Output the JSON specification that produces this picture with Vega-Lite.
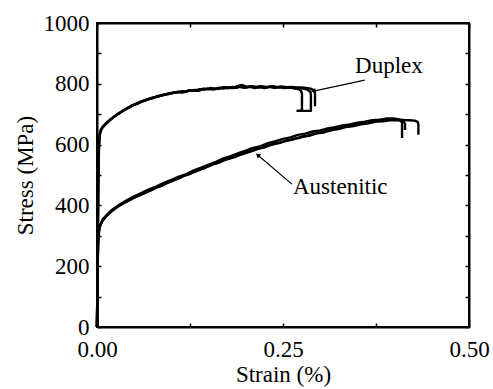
{
  "$schema": "https://vega.github.io/schema/vega-lite/v6.json",
  "width": 372,
  "height": 304,
  "autosize": "none",
  "padding": {"left": 97, "top": 23, "right": 24, "bottom": 62},
  "background": "white",
  "config": {
    "view": {"stroke": "#000", "strokeWidth": 2},
    "axis": {
      "grid": false,
      "domainColor": "#000", "domainWidth": 2,
      "tickColor": "#000", "tickWidth": 1.5, "tickSize": -4,
      "labelFont": "Liberation Serif", "labelFontSize": 23, "labelColor": "#000",
      "labelFlush": false, "labelOverlap": false,
      "titleFont": "Liberation Serif", "titleFontSize": 23, "titleFontWeight": "normal", "titleColor": "#000"
    }
  },
  "datasets": {
    "curves": [
      {"test":"D1","strain":0,"stress":0},{"test":"D1","strain":0.0005,"stress":150},{"test":"D1","strain":0.001,"stress":320},{"test":"D1","strain":0.0015,"stress":480},{"test":"D1","strain":0.002,"stress":580},{"test":"D1","strain":0.003,"stress":628},{"test":"D1","strain":0.005,"stress":648},{"test":"D1","strain":0.008,"stress":660},{"test":"D1","strain":0.012,"stress":670},{"test":"D1","strain":0.0175,"stress":682},{"test":"D1","strain":0.022,"stress":690},{"test":"D1","strain":0.028,"stress":701},{"test":"D1","strain":0.035,"stress":712},{"test":"D1","strain":0.04,"stress":718},{"test":"D1","strain":0.047,"stress":729},{"test":"D1","strain":0.052,"stress":733},{"test":"D1","strain":0.058,"stress":741},{"test":"D1","strain":0.064,"stress":745},{"test":"D1","strain":0.07,"stress":751},{"test":"D1","strain":0.076,"stress":754},{"test":"D1","strain":0.081,"stress":760},{"test":"D1","strain":0.088,"stress":762},{"test":"D1","strain":0.095,"stress":768},{"test":"D1","strain":0.102,"stress":771},{"test":"D1","strain":0.108,"stress":772},{"test":"D1","strain":0.115,"stress":776},{"test":"D1","strain":0.12,"stress":774},{"test":"D1","strain":0.125,"stress":778},{"test":"D1","strain":0.132,"stress":780},{"test":"D1","strain":0.138,"stress":778},{"test":"D1","strain":0.143,"stress":784},{"test":"D1","strain":0.15,"stress":782},{"test":"D1","strain":0.157,"stress":785},{"test":"D1","strain":0.163,"stress":783},{"test":"D1","strain":0.17,"stress":788},{"test":"D1","strain":0.176,"stress":785},{"test":"D1","strain":0.182,"stress":790},{"test":"D1","strain":0.188,"stress":787},{"test":"D1","strain":0.194,"stress":793},{"test":"D1","strain":0.2,"stress":788},{"test":"D1","strain":0.206,"stress":790},{"test":"D1","strain":0.212,"stress":786},{"test":"D1","strain":0.218,"stress":789},{"test":"D1","strain":0.225,"stress":786},{"test":"D1","strain":0.232,"stress":790},{"test":"D1","strain":0.238,"stress":787},{"test":"D1","strain":0.245,"stress":789},{"test":"D1","strain":0.252,"stress":786},{"test":"D1","strain":0.258,"stress":788},{"test":"D1","strain":0.264,"stress":785},{"test":"D1","strain":0.27,"stress":783},{"test":"D1","strain":0.274,"stress":778},{"test":"D1","strain":0.2755,"stress":768},{"test":"D1","strain":0.2755,"stress":712},{"test":"D1","strain":0.268,"stress":711},

      {"test":"D2","strain":0,"stress":0},{"test":"D2","strain":0.0008,"stress":200},{"test":"D2","strain":0.0015,"stress":420},{"test":"D2","strain":0.0022,"stress":570},{"test":"D2","strain":0.003,"stress":620},{"test":"D2","strain":0.0045,"stress":642},{"test":"D2","strain":0.007,"stress":655},{"test":"D2","strain":0.011,"stress":666},{"test":"D2","strain":0.016,"stress":678},{"test":"D2","strain":0.021,"stress":688},{"test":"D2","strain":0.027,"stress":699},{"test":"D2","strain":0.033,"stress":708},{"test":"D2","strain":0.039,"stress":718},{"test":"D2","strain":0.045,"stress":725},{"test":"D2","strain":0.051,"stress":733},{"test":"D2","strain":0.057,"stress":738},{"test":"D2","strain":0.063,"stress":745},{"test":"D2","strain":0.069,"stress":749},{"test":"D2","strain":0.075,"stress":755},{"test":"D2","strain":0.082,"stress":758},{"test":"D2","strain":0.089,"stress":764},{"test":"D2","strain":0.096,"stress":766},{"test":"D2","strain":0.103,"stress":770},{"test":"D2","strain":0.11,"stress":774},{"test":"D2","strain":0.117,"stress":773},{"test":"D2","strain":0.124,"stress":779},{"test":"D2","strain":0.131,"stress":777},{"test":"D2","strain":0.138,"stress":782},{"test":"D2","strain":0.145,"stress":781},{"test":"D2","strain":0.152,"stress":786},{"test":"D2","strain":0.159,"stress":783},{"test":"D2","strain":0.166,"stress":787},{"test":"D2","strain":0.173,"stress":789},{"test":"D2","strain":0.18,"stress":786},{"test":"D2","strain":0.187,"stress":791},{"test":"D2","strain":0.195,"stress":796},{"test":"D2","strain":0.202,"stress":790},{"test":"D2","strain":0.209,"stress":792},{"test":"D2","strain":0.216,"stress":788},{"test":"D2","strain":0.223,"stress":791},{"test":"D2","strain":0.23,"stress":789},{"test":"D2","strain":0.237,"stress":792},{"test":"D2","strain":0.244,"stress":788},{"test":"D2","strain":0.251,"stress":790},{"test":"D2","strain":0.258,"stress":787},{"test":"D2","strain":0.265,"stress":788},{"test":"D2","strain":0.272,"stress":786},{"test":"D2","strain":0.278,"stress":784},{"test":"D2","strain":0.283,"stress":780},{"test":"D2","strain":0.287,"stress":773},{"test":"D2","strain":0.2875,"stress":762},{"test":"D2","strain":0.2875,"stress":711},{"test":"D2","strain":0.271,"stress":711},

      {"test":"D3","strain":0,"stress":0},{"test":"D3","strain":0.001,"stress":250},{"test":"D3","strain":0.002,"stress":520},{"test":"D3","strain":0.0028,"stress":600},{"test":"D3","strain":0.004,"stress":636},{"test":"D3","strain":0.006,"stress":652},{"test":"D3","strain":0.01,"stress":664},{"test":"D3","strain":0.015,"stress":675},{"test":"D3","strain":0.02,"stress":686},{"test":"D3","strain":0.026,"stress":697},{"test":"D3","strain":0.032,"stress":706},{"test":"D3","strain":0.038,"stress":716},{"test":"D3","strain":0.044,"stress":724},{"test":"D3","strain":0.05,"stress":731},{"test":"D3","strain":0.056,"stress":736},{"test":"D3","strain":0.062,"stress":743},{"test":"D3","strain":0.068,"stress":748},{"test":"D3","strain":0.074,"stress":752},{"test":"D3","strain":0.08,"stress":757},{"test":"D3","strain":0.087,"stress":762},{"test":"D3","strain":0.094,"stress":765},{"test":"D3","strain":0.1,"stress":769},{"test":"D3","strain":0.107,"stress":773},{"test":"D3","strain":0.114,"stress":771},{"test":"D3","strain":0.121,"stress":776},{"test":"D3","strain":0.128,"stress":779},{"test":"D3","strain":0.135,"stress":777},{"test":"D3","strain":0.142,"stress":782},{"test":"D3","strain":0.149,"stress":784},{"test":"D3","strain":0.156,"stress":781},{"test":"D3","strain":0.163,"stress":786},{"test":"D3","strain":0.17,"stress":784},{"test":"D3","strain":0.177,"stress":788},{"test":"D3","strain":0.184,"stress":786},{"test":"D3","strain":0.191,"stress":790},{"test":"D3","strain":0.198,"stress":787},{"test":"D3","strain":0.205,"stress":791},{"test":"D3","strain":0.212,"stress":789},{"test":"D3","strain":0.219,"stress":792},{"test":"D3","strain":0.226,"stress":788},{"test":"D3","strain":0.233,"stress":791},{"test":"D3","strain":0.24,"stress":788},{"test":"D3","strain":0.247,"stress":791},{"test":"D3","strain":0.254,"stress":789},{"test":"D3","strain":0.261,"stress":790},{"test":"D3","strain":0.268,"stress":787},{"test":"D3","strain":0.275,"stress":788},{"test":"D3","strain":0.281,"stress":786},{"test":"D3","strain":0.287,"stress":784},{"test":"D3","strain":0.291,"stress":779},{"test":"D3","strain":0.293,"stress":770},{"test":"D3","strain":0.293,"stress":726},

      {"test":"A1","strain":0,"stress":0},{"test":"A1","strain":0.0005,"stress":120},{"test":"A1","strain":0.001,"stress":220},{"test":"A1","strain":0.0015,"stress":280},{"test":"A1","strain":0.002,"stress":305},{"test":"A1","strain":0.003,"stress":322},{"test":"A1","strain":0.005,"stress":338},{"test":"A1","strain":0.008,"stress":352},{"test":"A1","strain":0.012,"stress":364},{"test":"A1","strain":0.0175,"stress":378},{"test":"A1","strain":0.022,"stress":387},{"test":"A1","strain":0.028,"stress":397},{"test":"A1","strain":0.035,"stress":407},{"test":"A1","strain":0.041,"stress":414},{"test":"A1","strain":0.047,"stress":423},{"test":"A1","strain":0.053,"stress":428},{"test":"A1","strain":0.058,"stress":434},{"test":"A1","strain":0.064,"stress":440},{"test":"A1","strain":0.07,"stress":447},{"test":"A1","strain":0.076,"stress":453},{"test":"A1","strain":0.081,"stress":460},{"test":"A1","strain":0.087,"stress":464},{"test":"A1","strain":0.093,"stress":472},{"test":"A1","strain":0.098,"stress":477},{"test":"A1","strain":0.104,"stress":485},{"test":"A1","strain":0.11,"stress":489},{"test":"A1","strain":0.116,"stress":496},{"test":"A1","strain":0.122,"stress":501},{"test":"A1","strain":0.128,"stress":507},{"test":"A1","strain":0.134,"stress":513},{"test":"A1","strain":0.14,"stress":519},{"test":"A1","strain":0.146,"stress":526},{"test":"A1","strain":0.152,"stress":531},{"test":"A1","strain":0.158,"stress":537},{"test":"A1","strain":0.164,"stress":541},{"test":"A1","strain":0.17,"stress":548},{"test":"A1","strain":0.176,"stress":552},{"test":"A1","strain":0.182,"stress":557},{"test":"A1","strain":0.188,"stress":563},{"test":"A1","strain":0.194,"stress":567},{"test":"A1","strain":0.2,"stress":573},{"test":"A1","strain":0.206,"stress":578},{"test":"A1","strain":0.212,"stress":582},{"test":"A1","strain":0.218,"stress":588},{"test":"A1","strain":0.224,"stress":591},{"test":"A1","strain":0.23,"stress":597},{"test":"A1","strain":0.236,"stress":600},{"test":"A1","strain":0.242,"stress":605},{"test":"A1","strain":0.248,"stress":608},{"test":"A1","strain":0.254,"stress":612},{"test":"A1","strain":0.26,"stress":615},{"test":"A1","strain":0.266,"stress":620},{"test":"A1","strain":0.272,"stress":622},{"test":"A1","strain":0.278,"stress":627},{"test":"A1","strain":0.284,"stress":630},{"test":"A1","strain":0.29,"stress":634},{"test":"A1","strain":0.296,"stress":638},{"test":"A1","strain":0.302,"stress":641},{"test":"A1","strain":0.308,"stress":645},{"test":"A1","strain":0.314,"stress":647},{"test":"A1","strain":0.32,"stress":652},{"test":"A1","strain":0.326,"stress":654},{"test":"A1","strain":0.332,"stress":658},{"test":"A1","strain":0.338,"stress":660},{"test":"A1","strain":0.344,"stress":664},{"test":"A1","strain":0.35,"stress":666},{"test":"A1","strain":0.356,"stress":670},{"test":"A1","strain":0.362,"stress":671},{"test":"A1","strain":0.368,"stress":675},{"test":"A1","strain":0.374,"stress":676},{"test":"A1","strain":0.38,"stress":679},{"test":"A1","strain":0.386,"stress":680},{"test":"A1","strain":0.392,"stress":683},{"test":"A1","strain":0.398,"stress":682},{"test":"A1","strain":0.404,"stress":684},{"test":"A1","strain":0.408,"stress":680},{"test":"A1","strain":0.41,"stress":672},{"test":"A1","strain":0.41,"stress":622},

      {"test":"A2","strain":0,"stress":0},{"test":"A2","strain":0.001,"stress":240},{"test":"A2","strain":0.002,"stress":310},{"test":"A2","strain":0.004,"stress":335},{"test":"A2","strain":0.008,"stress":355},{"test":"A2","strain":0.014,"stress":371},{"test":"A2","strain":0.02,"stress":385},{"test":"A2","strain":0.03,"stress":402},{"test":"A2","strain":0.04,"stress":417},{"test":"A2","strain":0.05,"stress":430},{"test":"A2","strain":0.06,"stress":441},{"test":"A2","strain":0.07,"stress":453},{"test":"A2","strain":0.08,"stress":463},{"test":"A2","strain":0.09,"stress":474},{"test":"A2","strain":0.1,"stress":484},{"test":"A2","strain":0.11,"stress":495},{"test":"A2","strain":0.12,"stress":503},{"test":"A2","strain":0.13,"stress":515},{"test":"A2","strain":0.14,"stress":524},{"test":"A2","strain":0.15,"stress":534},{"test":"A2","strain":0.16,"stress":543},{"test":"A2","strain":0.17,"stress":555},{"test":"A2","strain":0.18,"stress":562},{"test":"A2","strain":0.19,"stress":572},{"test":"A2","strain":0.2,"stress":580},{"test":"A2","strain":0.21,"stress":589},{"test":"A2","strain":0.22,"stress":595},{"test":"A2","strain":0.23,"stress":605},{"test":"A2","strain":0.24,"stress":611},{"test":"A2","strain":0.25,"stress":619},{"test":"A2","strain":0.26,"stress":624},{"test":"A2","strain":0.27,"stress":632},{"test":"A2","strain":0.28,"stress":636},{"test":"A2","strain":0.29,"stress":643},{"test":"A2","strain":0.3,"stress":647},{"test":"A2","strain":0.31,"stress":653},{"test":"A2","strain":0.32,"stress":657},{"test":"A2","strain":0.33,"stress":663},{"test":"A2","strain":0.34,"stress":666},{"test":"A2","strain":0.35,"stress":672},{"test":"A2","strain":0.36,"stress":675},{"test":"A2","strain":0.37,"stress":680},{"test":"A2","strain":0.38,"stress":682},{"test":"A2","strain":0.39,"stress":686},{"test":"A2","strain":0.398,"stress":686},{"test":"A2","strain":0.405,"stress":683},{"test":"A2","strain":0.412,"stress":681},{"test":"A2","strain":0.42,"stress":680},{"test":"A2","strain":0.427,"stress":679},{"test":"A2","strain":0.431,"stress":675},{"test":"A2","strain":0.432,"stress":666},{"test":"A2","strain":0.432,"stress":632},

      {"test":"A3","strain":0,"stress":0},{"test":"A3","strain":0.0008,"stress":190},{"test":"A3","strain":0.0018,"stress":295},{"test":"A3","strain":0.0035,"stress":328},{"test":"A3","strain":0.007,"stress":348},{"test":"A3","strain":0.013,"stress":366},{"test":"A3","strain":0.019,"stress":379},{"test":"A3","strain":0.027,"stress":394},{"test":"A3","strain":0.036,"stress":408},{"test":"A3","strain":0.045,"stress":419},{"test":"A3","strain":0.055,"stress":432},{"test":"A3","strain":0.065,"stress":442},{"test":"A3","strain":0.075,"stress":454},{"test":"A3","strain":0.085,"stress":463},{"test":"A3","strain":0.095,"stress":475},{"test":"A3","strain":0.105,"stress":484},{"test":"A3","strain":0.115,"stress":496},{"test":"A3","strain":0.125,"stress":504},{"test":"A3","strain":0.135,"stress":516},{"test":"A3","strain":0.145,"stress":523},{"test":"A3","strain":0.155,"stress":535},{"test":"A3","strain":0.165,"stress":542},{"test":"A3","strain":0.175,"stress":553},{"test":"A3","strain":0.185,"stress":559},{"test":"A3","strain":0.195,"stress":570},{"test":"A3","strain":0.205,"stress":576},{"test":"A3","strain":0.215,"stress":586},{"test":"A3","strain":0.225,"stress":591},{"test":"A3","strain":0.235,"stress":601},{"test":"A3","strain":0.245,"stress":605},{"test":"A3","strain":0.255,"stress":614},{"test":"A3","strain":0.265,"stress":618},{"test":"A3","strain":0.275,"stress":626},{"test":"A3","strain":0.285,"stress":629},{"test":"A3","strain":0.295,"stress":637},{"test":"A3","strain":0.305,"stress":640},{"test":"A3","strain":0.315,"stress":648},{"test":"A3","strain":0.325,"stress":651},{"test":"A3","strain":0.335,"stress":658},{"test":"A3","strain":0.345,"stress":661},{"test":"A3","strain":0.355,"stress":667},{"test":"A3","strain":0.365,"stress":670},{"test":"A3","strain":0.375,"stress":676},{"test":"A3","strain":0.385,"stress":677},{"test":"A3","strain":0.395,"stress":681},{"test":"A3","strain":0.405,"stress":680},{"test":"A3","strain":0.412,"stress":676},{"test":"A3","strain":0.414,"stress":668},{"test":"A3","strain":0.414,"stress":648}
    ],
    "labels": [
      {"name": "Duplex", "strain": 0.3468, "stress": 836},
      {"name": "Austenitic", "strain": 0.2634, "stress": 436}
    ],
    "arrows": [
      {"name": "Duplex", "strain": 0.360, "stress": 812, "strain2": 0.291, "stress2": 776},
      {"name": "Austenitic", "strain": 0.262, "stress": 470, "strain2": 0.216, "stress2": 566}
    ]
  },
  "layer": [
    {
      "data": {"name": "curves"},
      "mark": {"type": "line", "color": "#000", "strokeWidth": 2.4, "strokeJoin": "round"},
      "encoding": {
        "x": {"field": "strain", "type": "quantitative", "scale": {"domain": [0, 0.5], "nice": false, "zero": false},
              "axis": {"orient": "bottom", "values": [0, 0.125, 0.25, 0.375, 0.5], "format": ".2f",
                       "labelExpr": "(datum.value * 8) % 2 == 0 ? datum.label : ''",
                       "labelPadding": 15, "title": "Strain (%)", "titlePadding": 2}},
        "y": {"field": "stress", "type": "quantitative", "scale": {"domain": [0, 1000], "nice": false},
              "axis": {"orient": "left", "values": [0, 100, 200, 300, 400, 500, 600, 700, 800, 900, 1000], "format": "d",
                       "labelExpr": "datum.value % 200 == 0 ? datum.label : ''",
                       "labelPadding": 12, "title": "Stress (MPa)", "titlePadding": 6}},
        "detail": {"field": "test"},
        "order": {"value": null}
      }
    },
    {
      "data": {"name": "curves"},
      "mark": {"type": "point", "opacity": 0},
      "encoding": {
        "x": {"field": "strain", "type": "quantitative",
              "axis": {"orient": "top", "values": [0, 0.125, 0.25, 0.375, 0.5], "labels": false, "title": null}},
        "y": {"field": "stress", "type": "quantitative",
              "axis": {"orient": "right", "values": [0, 100, 200, 300, 400, 500, 600, 700, 800, 900, 1000], "labels": false, "title": null}}
      }
    },
    {
      "data": {"name": "arrows"},
      "mark": {"type": "rule", "color": "#000", "strokeWidth": 1.2},
      "encoding": {
        "x": {"field": "strain", "type": "quantitative", "axis": null},
        "y": {"field": "stress", "type": "quantitative", "axis": null},
        "x2": {"field": "strain2"},
        "y2": {"field": "stress2"}
      }
    },
    {
      "data": {"name": "arrows"},
      "transform": [{"filter": "datum.name == 'Duplex'"}],
      "mark": {"type": "point", "shape": "triangle-up", "filled": true, "color": "#000", "size": 28, "angle": 258, "opacity": 1},
      "encoding": {
        "x": {"field": "strain2", "type": "quantitative", "axis": null},
        "y": {"field": "stress2", "type": "quantitative", "axis": null}
      }
    },
    {
      "data": {"name": "arrows"},
      "transform": [{"filter": "datum.name == 'Austenitic'"}],
      "mark": {"type": "point", "shape": "triangle-up", "filled": true, "color": "#000", "size": 28, "angle": 310, "opacity": 1},
      "encoding": {
        "x": {"field": "strain2", "type": "quantitative", "axis": null},
        "y": {"field": "stress2", "type": "quantitative", "axis": null}
      }
    },
    {
      "data": {"name": "labels"},
      "mark": {"type": "text", "font": "Liberation Serif", "fontSize": 23, "align": "left", "baseline": "alphabetic", "color": "#000"},
      "encoding": {
        "x": {"field": "strain", "type": "quantitative", "axis": null},
        "y": {"field": "stress", "type": "quantitative", "axis": null},
        "text": {"field": "name"}
      }
    }
  ],
  "resolve": {"axis": {"x": "independent", "y": "independent"}}
}
